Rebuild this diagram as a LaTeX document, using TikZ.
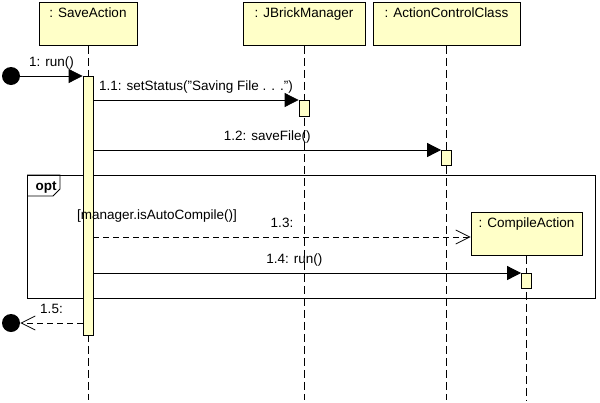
\documentclass[tikz,border=0pt]{standalone}
\usepackage{fontspec}
\setmainfont{Liberation Sans}
\usepackage{tikz}
\usetikzlibrary{arrows.meta}
\definecolor{umlyellow}{RGB}{255,255,200}

\begin{document}
\begin{tikzpicture}[x=1pt,y=-1pt,>={Triangle[length=14pt,width=14pt]},
                    line width=0.8pt,font=\fontsize{13.5}{16}\selectfont]
  \tikzstyle{object}=[draw,fill=umlyellow,inner xsep=0pt,inner ysep=3pt,
                      text height=12.5pt,text depth=24.5pt,anchor=north]
  \tikzstyle{bar}=[draw,fill=umlyellow,minimum width=10pt,inner sep=0pt,anchor=north]
  \tikzstyle{lifeline}=[dash pattern=on 8pt off 4pt]
  \tikzstyle{endpoint}=[circle,fill=black,minimum size=18pt,inner sep=0pt]
  \tikzstyle{msg}=[anchor=base,yshift=9.5pt,inner sep=0pt]
  \tikzstyle{reply}=[dash pattern=on 6pt off 4pt,-{Straight Barb[length=14pt,width=14pt]}]
  \useasboundingbox (0,0) rectangle (600,402);

  \node[draw,minimum width=568pt,minimum height=123pt,anchor=north west,
        inner sep=0pt] (Opt) at (27,175) {};
  \draw (Opt.north west) -- ++(33,0) -- ++(0,14) -- ++(-7,7) -- ++(-26,0);
  \node[anchor=base west,font=\fontsize{13.5}{16}\selectfont\bfseries] (OptLabel) at (32,190) {opt};

  \node[object,minimum width=98pt]  (SaveAction)    at (88,2)      {: SaveAction};
  \node[object,minimum width=122pt] (JBrickManager) at (304,2)     {: JBrickManager};
  \node[object,minimum width=147pt] (ActionControl) at (446.5,2)   {: ActionControlClass};
  \node[object,minimum width=111pt] (CompileAction) at (526.5,212) {: CompileAction};

  \draw[lifeline] (SaveAction)    -- (SaveAction |- 0,400);
  \draw[lifeline] (JBrickManager) -- (JBrickManager |- 0,400);
  \draw[lifeline] (ActionControl) -- (ActionControl |- 0,400);
  \draw[lifeline] (CompileAction) -- (CompileAction |- 0,400);

  \node[bar,minimum height=259pt] (SaveBar)    at (88,76)     {};
  \node[bar,minimum height=16pt]  (ManagerBar) at (304,100)   {};
  \node[bar,minimum height=15pt]  (ControlBar) at (446.5,150) {};
  \node[bar,minimum height=15pt]  (CompileBar) at (526.5,273) {};

  \node[endpoint] (Start)  at (11,76)  {};
  \node[endpoint] (Finish) at (11,323) {};
  \node[anchor=base] (Guard) at (157,219) {[manager.isAutoCompile()]};

  \draw[->] (Start) -- (SaveBar.north west) node[msg,midway] {1: run()};
  \draw[->] (SaveBar.east |- ManagerBar.north) -- (ManagerBar.north west)
        node[msg,midway] {1.1: setStatus("Saving File . . .")};
  \draw[->] (SaveBar.east |- ControlBar.north) -- (ControlBar.north west)
        node[msg,midway] {1.2: saveFile()};
  \draw[reply] (SaveBar.east |- 0,237) -- (CompileAction.west |- 0,237)
        node[msg,midway] {1.3:};
  \draw[->] (SaveBar.east |- CompileBar.north) -- (CompileBar.north west)
        node[msg,pos=0.47] {1.4: run()};
  \draw[reply] (SaveBar.west |- Finish) -- (Finish) node[msg,midway] {1.5:};
\end{tikzpicture}
\end{document}
